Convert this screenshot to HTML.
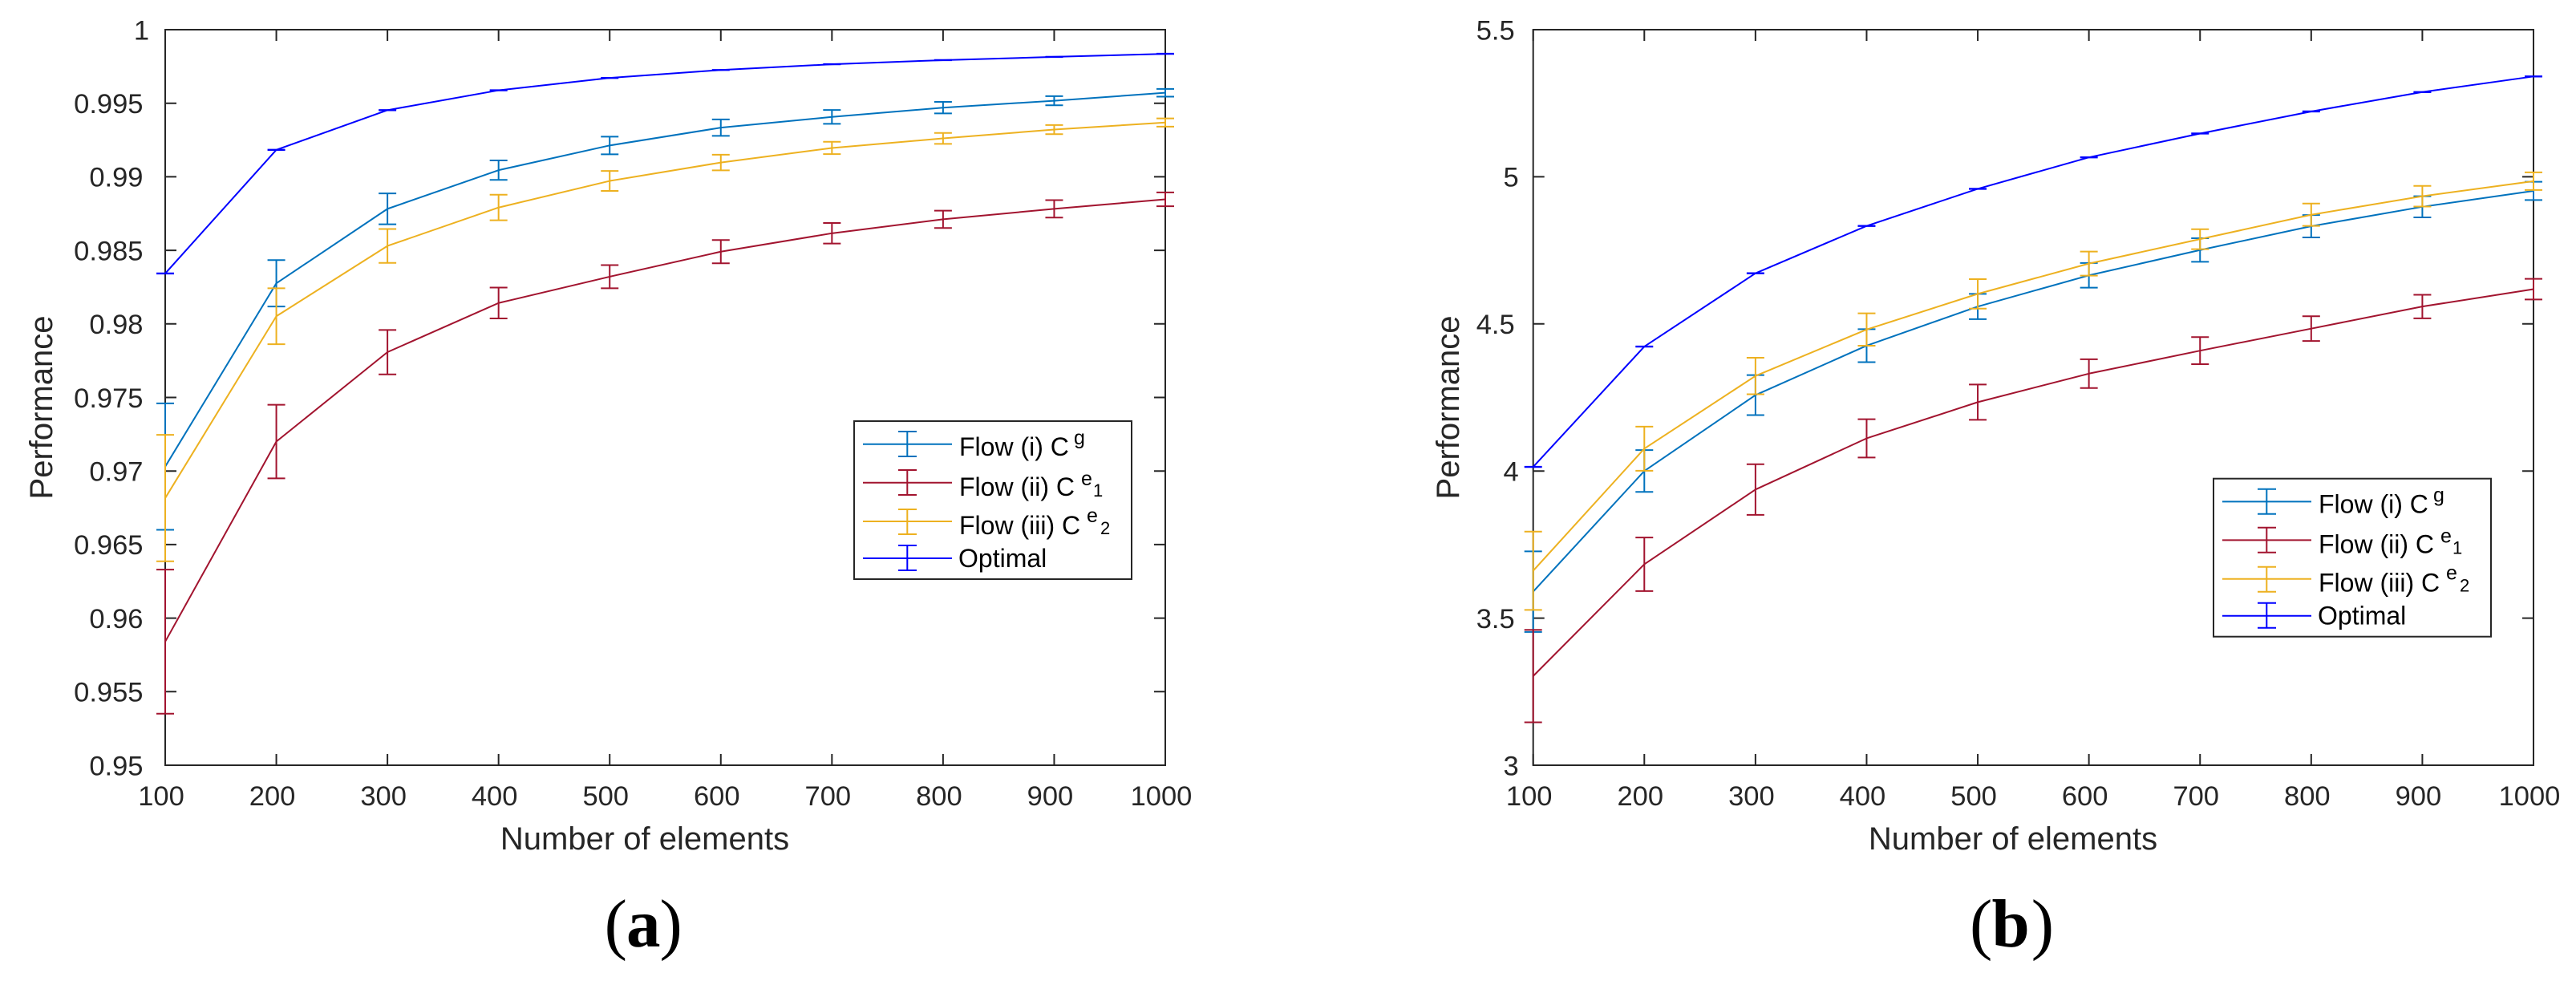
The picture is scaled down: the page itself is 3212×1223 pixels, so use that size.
<!DOCTYPE html>
<html lang="en">
<head>
<meta charset="utf-8">
<title>Performance vs number of elements</title>
<style>
html,body{margin:0;padding:0;background:#fff;}
svg{display:block;font-family:"Liberation Sans",sans-serif;}
.leg{font-size:32px;fill:#000;}
.sup{font-size:25px;fill:#000;}
.sub{font-size:22px;fill:#000;}
.cap{font-family:"Liberation Serif",serif;font-size:85px;fill:#000;}
.capb{font-family:"Liberation Serif",serif;font-size:85px;fill:#000;font-weight:bold;}
</style>
</head>
<body>
<svg id="figure" xmlns="http://www.w3.org/2000/svg" width="3212" height="1223" viewBox="0 0 3212 1223">
  <rect x="0" y="0" width="3212" height="1223" fill="#fff"/>
  <g id="panel-a"></g>
  <g id="panel-b"></g>

  <g transform="translate(1065,525)">
    <rect x="0" y="0" width="346" height="197" fill="#fff" stroke="#262626" stroke-width="2"/>
    <g fill="none" stroke="#0072BD" stroke-width="2">
      <path d="M11 28.7H122M66.3 13V44M55 13H78M55 44H78"/>
    </g>
    <text class="leg" x="131" y="43">Flow (i) C</text>
    <text class="sup" x="274" y="29">g</text>
    <g fill="none" stroke="#A2142F" stroke-width="2">
      <path d="M11 76.7H122M66.3 61V92M55 61H78M55 92H78"/>
    </g>
    <text class="leg" x="131" y="93">Flow (ii) C</text>
    <text class="sup" x="283" y="80">e</text>
    <text class="sub" x="298" y="94">1</text>
    <g fill="none" stroke="#EDB120" stroke-width="2">
      <path d="M11 125H122M66.3 110V141M55 110H78M55 141H78"/>
    </g>
    <text class="leg" x="131" y="141">Flow (iii) C</text>
    <text class="sup" x="290" y="126">e</text>
    <text class="sub" x="307" y="141">2</text>
    <g fill="none" stroke="#0000FF" stroke-width="2">
      <path d="M11 171H122M66.3 155V186M55 155H78M55 186H78"/>
    </g>
    <text class="leg" x="130" y="182">Optimal</text>
  </g>

  <g transform="translate(2760,596.7)">
    <rect x="0" y="0" width="346" height="197" fill="#fff" stroke="#262626" stroke-width="2"/>
    <g fill="none" stroke="#0072BD" stroke-width="2">
      <path d="M11 28.7H122M66.3 13V44M55 13H78M55 44H78"/>
    </g>
    <text class="leg" x="131" y="43">Flow (i) C</text>
    <text class="sup" x="274" y="29">g</text>
    <g fill="none" stroke="#A2142F" stroke-width="2">
      <path d="M11 76.7H122M66.3 61V92M55 61H78M55 92H78"/>
    </g>
    <text class="leg" x="131" y="93">Flow (ii) C</text>
    <text class="sup" x="283" y="80">e</text>
    <text class="sub" x="298" y="94">1</text>
    <g fill="none" stroke="#EDB120" stroke-width="2">
      <path d="M11 125H122M66.3 110V141M55 110H78M55 141H78"/>
    </g>
    <text class="leg" x="131" y="141">Flow (iii) C</text>
    <text class="sup" x="290" y="126">e</text>
    <text class="sub" x="307" y="141">2</text>
    <g fill="none" stroke="#0000FF" stroke-width="2">
      <path d="M11 171H122M66.3 155V186M55 155H78M55 186H78"/>
    </g>
    <text class="leg" x="130" y="182">Optimal</text>
  </g>

  <text y="1180"><tspan class="cap" x="753.6">(</tspan><tspan class="capb" x="781">a</tspan><tspan class="cap" x="822.5">)</tspan></text>
  <text y="1180"><tspan class="cap" x="2456">(</tspan><tspan class="capb" x="2483.5">b</tspan><tspan class="cap" x="2532.8">)</tspan></text>
</svg>

<script>
// Shared categories and tick labels
var elements = [100, 200, 300, 400, 500, 600, 700, 800, 900, 1000];
var xTickLabels = ["100", "200", "300", "400", "500", "600", "700", "800", "900", "1000"];
var aYTicks = [0.95, 0.955, 0.96, 0.965, 0.97, 0.975, 0.98, 0.985, 0.99, 0.995, 1];
var aYTickLabels = ["0.95", "0.955", "0.96", "0.965", "0.97", "0.975", "0.98", "0.985", "0.99", "0.995", "1"];
var bYTicks = [3, 3.5, 4, 4.5, 5, 5.5];
var bYTickLabels = ["3", "3.5", "4", "4.5", "5", "5.5"];

// Panel (a) values
var aFlowI = [0.9703, 0.98276, 0.98782, 0.99045, 0.99213, 0.99334, 0.99407, 0.9947, 0.99517, 0.99571];
var aFlowIErr = [0.0043, 0.00158, 0.00105, 0.00066, 0.0006, 0.00056, 0.00047, 0.00039, 0.00031, 0.00026];
var aFlowII = [0.9584, 0.972, 0.97808, 0.98142, 0.98321, 0.98491, 0.98616, 0.98711, 0.98782, 0.98847];
var aFlowIIErr = [0.0049, 0.0025, 0.00151, 0.00105, 0.00079, 0.00079, 0.0007, 0.00059, 0.00059, 0.00047];
var aFlowIII = [0.96816, 0.98052, 0.9853, 0.98791, 0.98972, 0.99097, 0.99196, 0.99261, 0.99321, 0.99369];
var aFlowIIIErr = [0.0043, 0.0019, 0.00115, 0.00087, 0.00068, 0.00053, 0.00042, 0.00037, 0.00031, 0.00028];
var aOptimal = [0.98343, 0.99183, 0.99453, 0.99588, 0.99672, 0.99726, 0.99765, 0.99793, 0.99815, 0.99836];
var aOptimalErr = [0.00001, 0.00001, 0.00001, 0.00001, 0.00001, 0.00001, 0.00001, 0.00001, 0.00001, 0.00001];

// Panel (b) values
var bFlowI = [3.59, 4.0, 4.258, 4.426, 4.559, 4.665, 4.751, 4.832, 4.898, 4.952];
var bFlowIErr = [0.137, 0.071, 0.068, 0.056, 0.043, 0.042, 0.04, 0.038, 0.036, 0.031];
var bFlowII = [3.303, 3.683, 3.937, 4.111, 4.234, 4.331, 4.409, 4.484, 4.559, 4.618];
var bFlowIIErr = [0.157, 0.091, 0.086, 0.065, 0.06, 0.049, 0.046, 0.042, 0.04, 0.035];
var bFlowIII = [3.661, 4.076, 4.323, 4.481, 4.602, 4.705, 4.788, 4.871, 4.934, 4.985];
var bFlowIIIErr = [0.133, 0.075, 0.062, 0.055, 0.05, 0.041, 0.034, 0.038, 0.035, 0.03];
var bOptimal = [4.014, 4.423, 4.672, 4.833, 4.959, 5.066, 5.147, 5.222, 5.288, 5.341];
var bOptimalErr = [0.0005, 0.0005, 0.0005, 0.0005, 0.0005, 0.0005, 0.0005, 0.0005, 0.0005, 0.0005];

var NS = "http://www.w3.org/2000/svg";
var AXIS = "#262626";

function make(parent, tag, attrs, text) {
  var n = document.createElementNS(NS, tag);
  for (var k in attrs) n.setAttribute(k, attrs[k]);
  if (text !== undefined) n.textContent = text;
  parent.appendChild(n);
  return n;
}

function drawPanel(id, box, yTicks, yLabels, series) {
  var root = document.getElementById(id);
  var xMin = elements[0], xMax = elements[elements.length - 1];
  var yMin = yTicks[0], yMax = yTicks[yTicks.length - 1];
  function X(v) { return box.left + (v - xMin) / (xMax - xMin) * (box.right - box.left); }
  function Y(v) { return box.bottom - (v - yMin) / (yMax - yMin) * (box.bottom - box.top); }

  var frame = make(root, "rect", {x: box.left, y: box.top, width: box.right - box.left, height: box.bottom - box.top, fill: "none", stroke: AXIS, "stroke-width": 2});
  
  

  elements.forEach(function (v, i) {
    var x = X(v);
    var t = make(root, "path", {d: "M" + x + " " + box.bottom + "V" + (box.bottom - 14) + "M" + x + " " + box.top + "V" + (box.top + 14), fill: "none", stroke: AXIS, "stroke-width": 2});
    
    
    var l = make(root, "text", {x: x - 5, y: 1004, "text-anchor": "middle", "font-size": 34.5, fill: AXIS}, xTickLabels[i]);
    
    
  });

  yTicks.forEach(function (v, i) {
    var y = Y(v);
    var t = make(root, "path", {d: "M" + box.left + " " + y + "H" + (box.left + 14) + "M" + box.right + " " + y + "H" + (box.right - 14), fill: "none", stroke: AXIS, "stroke-width": 2});
    
    
    var off = yLabels[i].indexOf(".") >= 0 ? box.labelDot : box.labelInt;
    var l = make(root, "text", {x: box.left - off, y: y + 12.3, "text-anchor": "end", "font-size": 34.5, fill: AXIS}, yLabels[i]);
    
    
  });

  var xt = make(root, "text", {x: box.xLabelX, y: 1059, "text-anchor": "middle", "font-size": 40, fill: AXIS}, "Number of elements");
  
  

  var yt = make(root, "text", {transform: "translate(" + box.yLabelX + ",508) rotate(-90)", "text-anchor": "middle", "font-size": 40, fill: AXIS}, "Performance");
  
  

  series.forEach(function (s) {
    var g = make(root, "g", {fill: "none", stroke: s.color, "stroke-width": 2, "stroke-linejoin": "round"});
    
    
    var pts = elements.map(function (v, i) { return X(v) + "," + Y(s.values[i]); }).join(" ");
    var line = make(g, "polyline", {points: pts});
    
    
    elements.forEach(function (v, i) {
      var x = X(v);
      var hi = Y(s.values[i] + s.errors[i]);
      var lo = Y(s.values[i] - s.errors[i]);
      var d = "M" + x + " " + hi + "V" + lo + "M" + (x - 11) + " " + hi + "H" + (x + 11) + "M" + (x - 11) + " " + lo + "H" + (x + 11);
      var bar = make(g, "path", {d: d});
      
      
    });
  });
}

drawPanel("panel-a",
  {left: 206, right: 1453, top: 37, bottom: 954, labelDot: 27.5, labelInt: 20, xLabelX: 804, yLabelX: 65},
  aYTicks, aYTickLabels,
  [
    {key: "flow-i", color: "#0072BD", values: aFlowI, errors: aFlowIErr},
    {key: "flow-ii", color: "#A2142F", values: aFlowII, errors: aFlowIIErr},
    {key: "flow-iii", color: "#EDB120", values: aFlowIII, errors: aFlowIIIErr},
    {key: "optimal", color: "#0000FF", values: aOptimal, errors: aOptimalErr}
  ]);

drawPanel("panel-b",
  {left: 1911.7, right: 3159, top: 37, bottom: 954, labelDot: 23, labelInt: 18, xLabelX: 2510, yLabelX: 1819},
  bYTicks, bYTickLabels,
  [
    {key: "flow-i", color: "#0072BD", values: bFlowI, errors: bFlowIErr},
    {key: "flow-ii", color: "#A2142F", values: bFlowII, errors: bFlowIIErr},
    {key: "flow-iii", color: "#EDB120", values: bFlowIII, errors: bFlowIIIErr},
    {key: "optimal", color: "#0000FF", values: bOptimal, errors: bOptimalErr}
  ]);
</script>
</body>
</html>
